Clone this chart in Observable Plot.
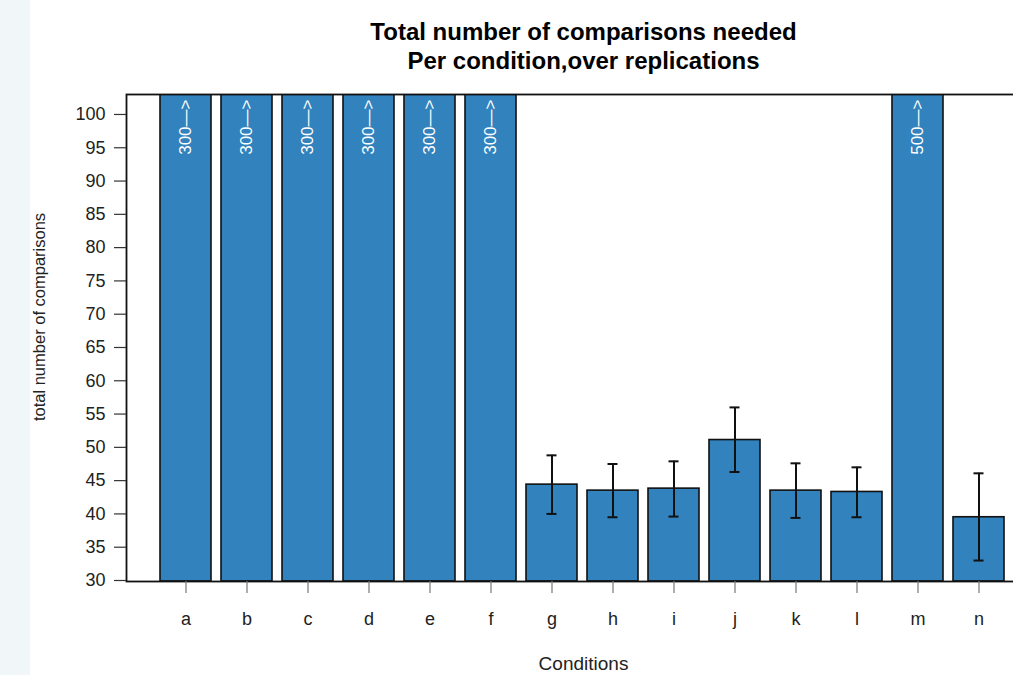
<!DOCTYPE html>
<html>
<head>
<meta charset="utf-8">
<script src="https://cdn.jsdelivr.net/npm/d3@7"></script>
<script src="https://cdn.jsdelivr.net/npm/@observablehq/plot@0.6"></script>
<style>
  html, body { margin: 0; padding: 0; width: 1013px; height: 675px; overflow: hidden;
    background: linear-gradient(to right, #f1f6f9 0, #f1f6f9 30px, #ffffff 30px); }
  #chart { position: absolute; left: 0; top: 0; width: 1050px; height: 675px; }
  #chart svg { background: transparent !important; max-width: none !important; width: 1050px !important; height: 675px !important; }
</style>
</head>
<body>
<div id="chart"></div>
<script>
const conditions = ["a","b","c","d","e","f","g","h","i","j","k","l","m","n"];
const means  = [300, 300, 300, 300, 300, 300, 44.4, 43.5, 43.8, 51.1, 43.5, 43.3, 500, 39.5];
const lows   = [null, null, null, null, null, null, 40.0, 39.5, 39.6, 46.3, 39.4, 39.5, null, 33.0];
const highs  = [null, null, null, null, null, null, 48.8, 47.5, 47.9, 56.0, 47.6, 47.0, null, 46.1];
const overflowLabels = ["300\u2014>","300\u2014>","300\u2014>","300\u2014>","300\u2014>","300\u2014>",null,null,null,null,null,null,"500\u2014>",null];
const yTicks = [30,35,40,45,50,55,60,65,70,75,80,85,90,95,100];
const titleLines = ["Total number of comparisons needed", "Per condition,over replications"];
const xLabel = "Conditions";
const yLabel = "total number of comparisons";

const data = conditions.map((c, i) => ({cond: c, mean: means[i], lo: lows[i], hi: highs[i], lab: overflowLabels[i]}));
const errData = data.filter(d => d.lo != null);
const overData = data.filter(d => d.lab != null);

const font = "'Liberation Sans', Arial, Helvetica, sans-serif";
const barColor = "#3182bd";

const chart = Plot.plot({
  width: 1050,
  height: 675,
  marginLeft: 126,
  marginRight: 10,
  marginTop: 94,
  marginBottom: 94,
  style: {fontFamily: font, background: "transparent", color: "#111"},
  x: {type: "band", domain: conditions, range: [155, 1009.5], paddingInner: 0.1667, paddingOuter: 0.0833, label: null},
  y: {domain: [29.85, 103], label: null},
  marks: [
    Plot.barY(data, {x: "cond", y1: 29.85, y2: "mean", fill: barColor, stroke: "#111", strokeWidth: 1.6, clip: "frame"}),
    Plot.ruleX(errData, {x: "cond", y1: "lo", y2: "hi", stroke: "#111", strokeWidth: 2}),
    Plot.tickY(errData, {x: "cond", y: "lo", stroke: "#111", strokeWidth: 2, insetLeft: 20.5, insetRight: 20.5}),
    Plot.tickY(errData, {x: "cond", y: "hi", stroke: "#111", strokeWidth: 2, insetLeft: 20.5, insetRight: 20.5}),
    Plot.text(overData, {x: "cond", text: "lab", frameAnchor: "top", rotate: -90, textAnchor: "end", lineAnchor: "middle", dy: 5, fill: "white", fontSize: 17}),
    Plot.frame({stroke: "#111", strokeWidth: 1.8}),
    Plot.axisY({ticks: yTicks, tickSize: 12, tickPadding: 9, fontSize: 18, stroke: "#333", strokeWidth: 1.2, color: "#222", label: null}),
    Plot.axisX({tickSize: 12, tickPadding: 19, fontSize: 18, stroke: "#777", strokeWidth: 1.2, color: "#222", label: null}),
    Plot.text([xLabel], {frameAnchor: "bottom", lineAnchor: "middle", dy: 82, fontSize: 19, fill: "#222"}),
    Plot.text([yLabel], {frameAnchor: "left", rotate: -90, textAnchor: "middle", lineAnchor: "middle", dx: -87, dy: -21, fontSize: 16.5, fill: "#222"}),
    Plot.text([titleLines[0]], {frameAnchor: "top", lineAnchor: "middle", dy: -62, fontSize: 24, fontWeight: "bold", fill: "#000"}),
    Plot.text([titleLines[1]], {frameAnchor: "top", lineAnchor: "middle", dy: -33, fontSize: 24, fontWeight: "bold", fill: "#000"})
  ]
});
document.getElementById("chart").appendChild(chart);
</script>
</body>
</html>
